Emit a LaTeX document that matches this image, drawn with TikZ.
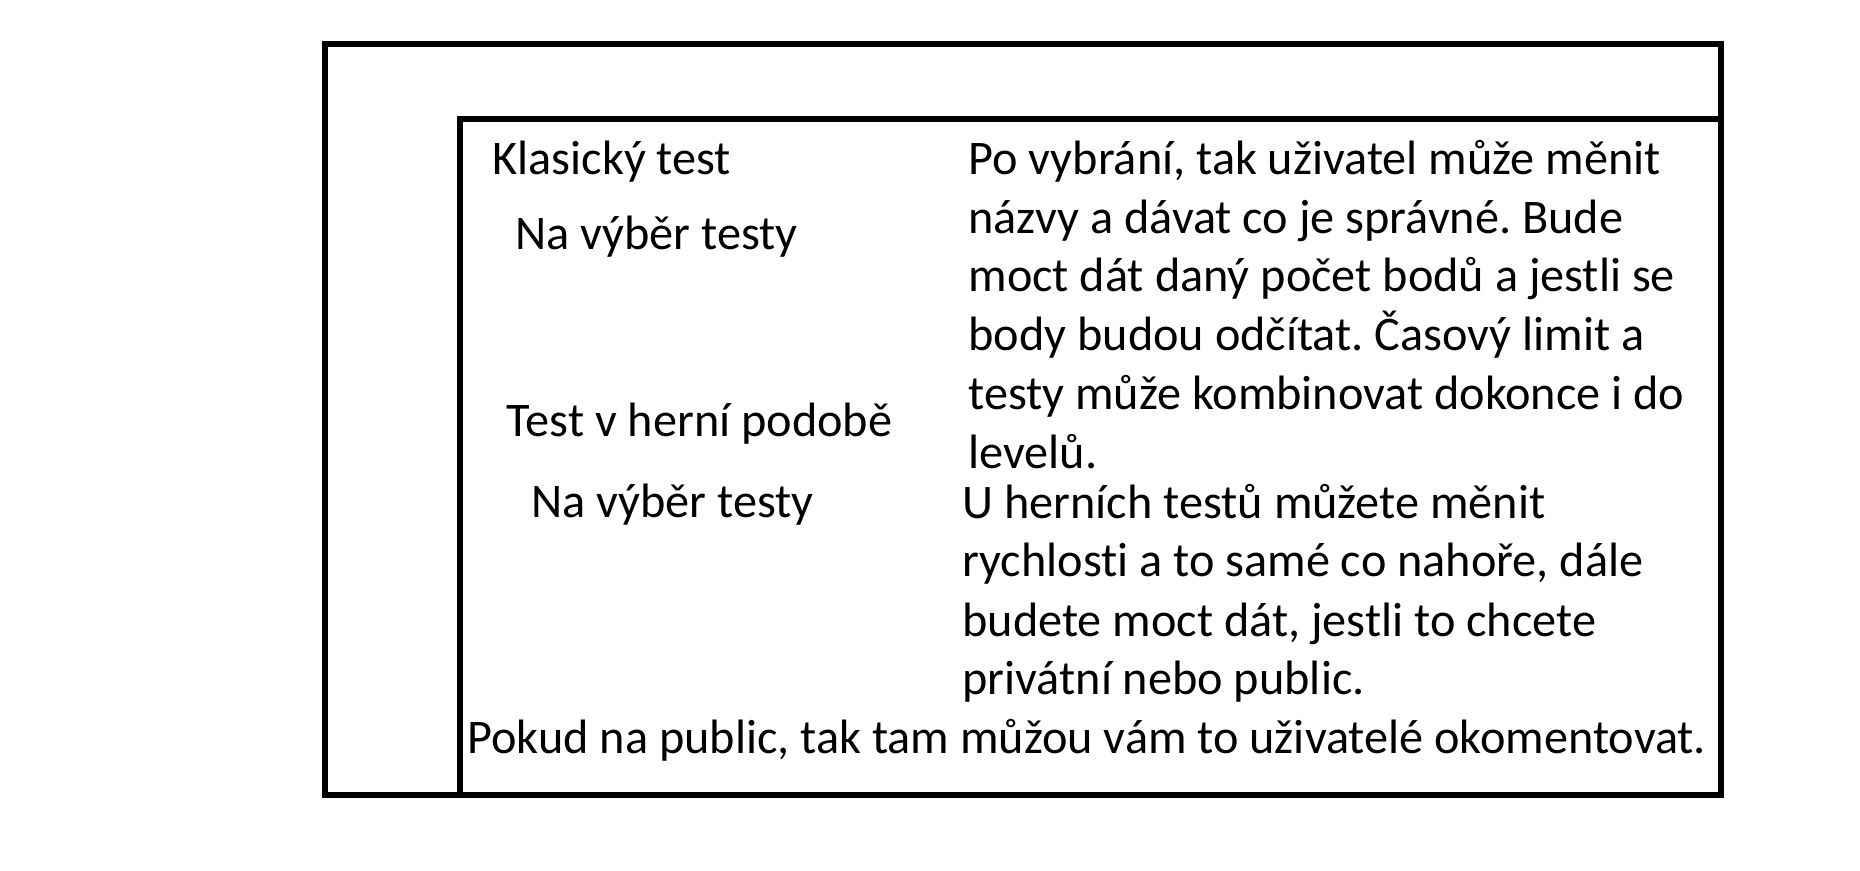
\documentclass[tikz,border=0pt]{standalone}
\usepackage{fontspec}
\setmainfont[Ligatures=NoCommon]{Carlito}
\begin{document}
\frenchspacing
\begin{tikzpicture}[x=0.4pt,y=-0.4pt,
  frame/.style={line width=2.1pt},
  txt/.style={anchor=base west,inner sep=0pt,font=\fontsize{19.3}{25}\selectfont}]
\useasboundingbox (0,0) rectangle (1860,871);
% outer and inner frames
\draw[frame] (325,44) rectangle (1721,795);
\draw[frame] (460,795) -- (460,119) -- (1721,119);
% left column labels
\node[txt] (klas) at (492,175) {Klasický test};
\node[txt] (vyber1) at (515,250) {Na výběr testy};
\node[txt] (herni) at (506,437) {Test v herní podobě};
\node[txt] (vyber2) at (531,518) {Na výběr testy};
% description of the classic test
\node[txt] (a1) at (968,175) {Po vybrání, tak uživatel může měnit};
\node[txt] (a2) at (968,234) {názvy a dávat co je správné. Bude};
\node[txt] (a3) at (968,292) {moct dát daný počet bodů a jestli se};
\node[txt] (a4) at (968,351) {body budou odčítat. Časový limit a};
\node[txt] (a5) at (968,410) {testy může kombinovat dokonce i do};
\node[txt] (a6) at (968,469) {levelů.};
% description of the game test
\node[txt] (b1) at (962,519) {U herních testů můžete měnit};
\node[txt] (b2) at (962,577) {rychlosti a to samé co nahoře, dále};
\node[txt] (b3) at (962,636) {budete moct dát, jestli to chcete};
\node[txt] (b4) at (962,694) {privátní nebo public.};
\node[txt] (pub) at (467,753) {Pokud na public, tak tam můžou vám to uživatelé okomentovat.};
\end{tikzpicture}
\end{document}
